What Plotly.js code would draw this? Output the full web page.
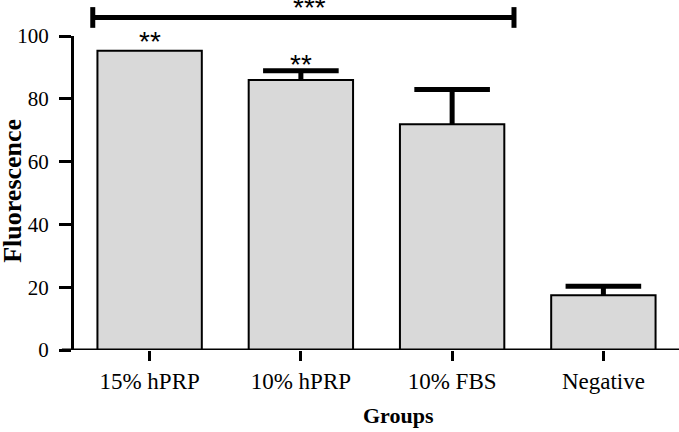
<!DOCTYPE html>
<html>
<head>
<meta charset="utf-8">
<script src="https://cdn.plot.ly/plotly-3.0.1.min.js"></script>
<style>
html,body{margin:0;padding:0;background:#fff;}
#chart{width:679px;height:432px;}
</style>
</head>
<body>
<div id="chart"></div>
<script>
// ---- data ----
var categories = ["15% hPRP", "10% hPRP", "10% FBS", "Negative"];
var meanValues = [95.3, 86.0, 71.9, 17.4];
var errorUp = [0, 2.9, 11.1, 2.9];
var barSigLabels = ["**", "**", "", ""];
var yTickVals = [0, 20, 40, 60, 80, 100];
var bracketFrom = [-0.376];
var bracketTo = [2.409];
var bracketLabel = ["***"];

var serif = "Liberation Serif, Times New Roman, serif";
var sans = "Liberation Sans, Arial, sans-serif";
var xIdx = categories.map(function(c, i){ return i; });

var barTrace = {
  type: 'bar',
  x: xIdx,
  y: meanValues,
  width: 0.69,
  marker: {color: '#d9d9d9', line: {color: '#000', width: 2}},
  cliponaxis: false,
  hoverinfo: 'none'
};

// upper-only error bars: stem via error_y (no caps), cap via line marker
var errTrace = {
  type: 'scatter',
  mode: 'markers',
  x: xIdx,
  y: meanValues.map(function(v, i){ return errorUp[i] > 0 ? v + errorUp[i] : null; }),
  error_y: {type: 'data', array: errorUp.map(function(){ return 0; }), arrayminus: errorUp,
            symmetric: false, color: '#000', thickness: 5, width: 0, visible: true},
  marker: {symbol: 'line-ew', size: 54, color: '#000', line: {color: '#000', width: 5}},
  cliponaxis: false,
  hoverinfo: 'none'
};

var sigShift = [-8, -11, 0, 0];
var annotations = [];
barSigLabels.forEach(function(t, i){
  if (!t) return;
  annotations.push({x: i, y: meanValues[i] + errorUp[i], xref: 'x', yref: 'y', text: t,
    showarrow: false, yanchor: 'bottom', yshift: sigShift[i],
    font: {family: sans, size: 28, color: '#000'}});
});
bracketLabel.forEach(function(t, i){
  annotations.push({x: (bracketFrom[i] + bracketTo[i]) / 2 + 0.04, y: 1.0, xref: 'x', yref: 'paper',
    text: t, showarrow: false, yanchor: 'bottom', yshift: 11,
    font: {family: sans, size: 28, color: '#000'}});
});
annotations.push({x: 0.537, y: -0.21, xref: 'paper', yref: 'paper', text: '<b>Groups</b>',
  showarrow: false, yanchor: 'middle', font: {family: serif, size: 22, color: '#000'}});
annotations.push({x: -0.102, y: 0.508, xref: 'paper', yref: 'paper', text: '<b>Fluorescence</b>',
  showarrow: false, textangle: -90, xanchor: 'center', yanchor: 'middle',
  font: {family: serif, size: 26, color: '#000'}});

var shapes = [
  {type: 'line', xref: 'paper', yref: 'y', x0: -0.02, x1: 1.0, y0: 0, y1: 0,
   line: {color: '#000', width: 3}}
];
bracketFrom.forEach(function(f, i){
  var by = 1.059;
  shapes.push({type: 'line', xref: 'x', yref: 'paper', x0: f, x1: bracketTo[i], y0: by, y1: by,
    line: {color: '#000', width: 5}});
  shapes.push({type: 'line', xref: 'x', yref: 'paper', x0: f, x1: f, y0: by - 0.033, y1: by + 0.033,
    line: {color: '#000', width: 5}});
  shapes.push({type: 'line', xref: 'x', yref: 'paper', x0: bracketTo[i], x1: bracketTo[i], y0: by - 0.033, y1: by + 0.033,
    line: {color: '#000', width: 5}});
});

var layout = {
  width: 679, height: 432,
  margin: {l: 74, r: 0, t: 36, b: 82, pad: 0},
  paper_bgcolor: '#fff', plot_bgcolor: '#fff',
  showlegend: false,
  xaxis: {
    range: [-0.5, 3.5], tickvals: xIdx, ticktext: categories,
    showline: false, zeroline: false, showgrid: false,
    ticks: 'outside', ticklen: 10, tickwidth: 3, tickcolor: '#000',
    tickfont: {family: serif, size: 23, color: '#000'}, fixedrange: true
  },
  yaxis: {
    range: [0, 100], tickvals: yTickVals,
    showline: true, linecolor: '#000', linewidth: 3, zeroline: false, showgrid: false,
    ticks: 'outside', ticklen: 12, tickwidth: 3, tickcolor: '#000',
    tickfont: {family: serif, size: 21, color: '#000'}, fixedrange: true,
    ticklabelstandoff: 6
  },
  annotations: annotations,
  shapes: shapes
};

Plotly.newPlot('chart', [barTrace, errTrace], layout, {displayModeBar: false, staticPlot: true});
</script>
</body>
</html>
